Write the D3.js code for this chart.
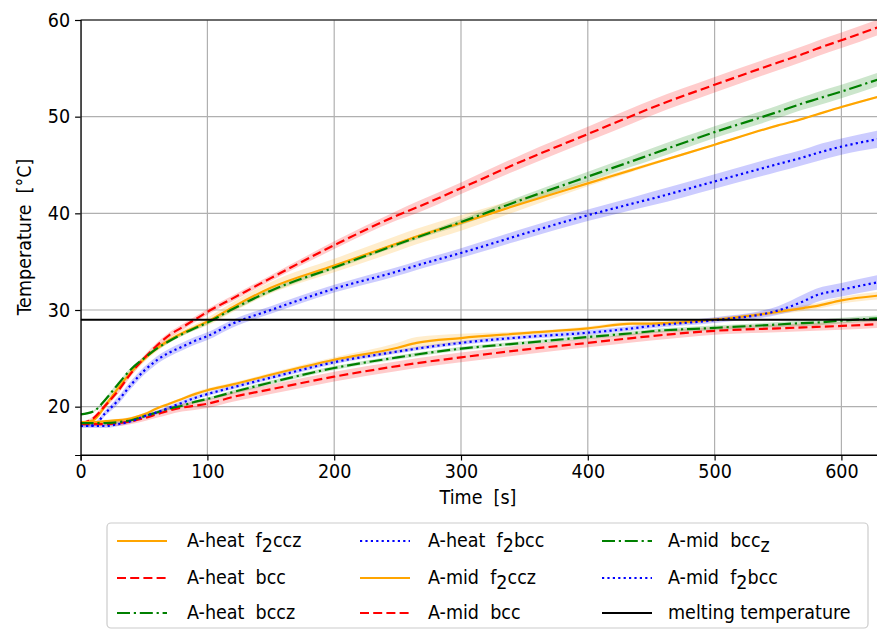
<!DOCTYPE html>
<html><head><meta charset="utf-8">
<script src="https://cdn.jsdelivr.net/npm/d3@7"></script>
<style>
body{margin:0;background:#fff}
svg text{font-family:"DejaVu Sans Condensed","DejaVu Sans",sans-serif;font-stretch:condensed;white-space:pre;fill:#000}
</style></head><body>
<svg id="chart" width="877" height="630"></svg>
<script>
// ---- data (time in s, temperature in °C) ----
const times = [0,10,20,30,40,50,60,70,80,90,100,120,150,200,250,265,300,350,400,435,450,500,550,570,580,600,630];

const heatF2ccz    = [18.3,18.6,20.2,22.0,23.6,24.9,26.0,26.9,27.6,28.2,28.8,30.3,32.3,34.6,36.9,37.6,39.0,41.1,43.1,44.5,45.1,47.1,49.1,49.8,50.2,51.0,52.1];
const heatF2cczSd  = [0.1,0.2,0.3,0.3,0.3,0.3,0.3,0.3,0.3,0.3,0.4,0.5,0.6,0.7,0.8,0.8,0.8,0.6,0.3,0.2,0.15,0.1,0.1,0.1,0.1,0.1,0.1];
const heatBcc      = [18.3,18.8,20.2,21.7,23.5,25.0,26.3,27.4,28.2,29.0,29.8,31.2,33.3,36.7,39.8,40.6,42.6,45.5,48.2,50.1,50.9,53.3,55.6,56.5,57.0,57.9,59.3];
const heatBccSd    = [0.1,0.2,0.3,0.3,0.3,0.3,0.3,0.3,0.3,0.3,0.3,0.3,0.3,0.4,0.5,0.6,0.6,0.7,0.75,0.8,0.8,0.8,0.8,0.8,0.8,0.8,0.8];
const heatBccz     = [19.2,19.5,20.8,22.4,23.9,25.0,26.0,26.8,27.5,28.1,28.7,30.1,32.0,34.4,36.8,37.5,39.1,41.5,43.8,45.4,46.1,48.4,50.5,51.4,51.8,52.6,53.9];
const heatBcczSd   = [0.1,0.1,0.2,0.2,0.2,0.2,0.2,0.2,0.2,0.2,0.2,0.2,0.2,0.2,0.2,0.2,0.3,0.4,0.5,0.55,0.6,0.6,0.65,0.65,0.7,0.7,0.7];
const heatF2bcc    = [18.0,18.1,19.4,20.7,22.3,23.7,24.8,25.6,26.2,26.8,27.3,28.6,30.0,32.2,34.0,34.6,35.9,37.9,39.8,41.0,41.5,43.3,45.1,45.8,46.2,46.9,47.7];
const heatF2bccSd  = [0.1,0.2,0.3,0.4,0.4,0.4,0.4,0.4,0.4,0.4,0.4,0.4,0.4,0.4,0.45,0.45,0.5,0.55,0.6,0.65,0.7,0.75,0.8,0.8,0.85,0.85,0.9];

const midF2ccz     = [18.4,18.4,18.5,18.6,18.8,19.2,19.8,20.3,20.8,21.3,21.7,22.3,23.3,24.85,26.1,26.6,27.1,27.6,28.1,28.6,28.6,29.0,29.8,30.2,30.4,31.0,31.5];
const midF2cczSd   = [0.15,0.15,0.15,0.15,0.15,0.15,0.15,0.15,0.15,0.2,0.2,0.2,0.2,0.25,0.5,0.6,0.45,0.2,0.2,0.2,0.2,0.2,0.25,0.3,0.3,0.35,0.4];
const midF2bcc     = [18.0,18.0,18.0,18.2,18.5,19.0,19.4,19.9,20.4,20.9,21.3,22.0,23.0,24.6,25.7,26.0,26.6,27.2,27.65,28.1,28.35,28.95,29.95,30.9,31.5,32.1,32.9];
const midF2bccSd   = [0.2,0.2,0.2,0.2,0.2,0.2,0.2,0.2,0.2,0.2,0.2,0.2,0.2,0.2,0.2,0.2,0.2,0.2,0.25,0.25,0.25,0.3,0.45,0.7,0.7,0.7,0.75];
const midBccz      = [18.3,18.3,18.3,18.4,18.6,19.0,19.4,19.8,20.1,20.5,20.8,21.5,22.5,24.0,25.1,25.4,26.0,26.6,27.2,27.6,27.8,28.15,28.5,28.65,28.7,28.9,29.15];
const midBcczSd    = [0.1,0.1,0.1,0.1,0.1,0.15,0.15,0.15,0.15,0.15,0.15,0.2,0.2,0.2,0.2,0.2,0.2,0.2,0.2,0.2,0.2,0.25,0.25,0.3,0.3,0.3,0.3];
const midBcc       = [18.2,18.2,18.2,18.3,18.5,18.8,19.2,19.6,19.9,20.1,20.3,21.0,21.8,23.1,24.2,24.5,25.1,25.9,26.6,27.1,27.3,27.85,28.1,28.2,28.25,28.35,28.55];
const midBccSd     = [0.2,0.2,0.2,0.3,0.3,0.3,0.35,0.4,0.4,0.45,0.45,0.5,0.5,0.5,0.5,0.5,0.5,0.5,0.45,0.45,0.45,0.4,0.4,0.4,0.4,0.4,0.4];

const meltingTemp = 29.0;

const xTicks = [0,100,200,300,400,500,600];
const yTicks = [20,30,40,50,60];

const seriesNames = ["A-heat f2ccz","A-heat bcc","A-heat bccz","A-heat f2bcc","A-mid f2ccz","A-mid bcc","A-mid bccz","A-mid f2bcc"];
const seriesValues = [heatF2ccz,heatBcc,heatBccz,heatF2bcc,midF2ccz,midBcc,midBccz,midF2bcc];
const seriesSd = [heatF2cczSd,heatBccSd,heatBcczSd,heatF2bccSd,midF2cczSd,midBccSd,midBcczSd,midF2bccSd];

// ---- styles ----
const styleOf = {
  solid:   {color:"#ffa500", dash:null},
  dashed:  {color:"#ff0000", dash:"9,4.2"},
  dashdot: {color:"#008000", dash:"13,3.8,2.2,3.8"},
  dotted:  {color:"#0000ff", dash:"2.2,3.2"}
};
const seriesStyle = ["solid","dashed","dashdot","dotted","solid","dashed","dashdot","dotted"];

const svg = d3.select("#chart");
const L = 80.6, T = 20, B = 455, R = 80.6 + 1.268*630;
const x = d3.scaleLinear().domain([0,630]).range([L,R]);
const y = d3.scaleLinear().domain([15,60]).range([B,T]);

svg.append("defs").append("clipPath").attr("id","clip")
  .append("rect").attr("x",L).attr("y",T).attr("width",R-L).attr("height",B-T);

// grid
const grid = svg.append("g");
grid.selectAll("line.gx").data(xTicks).enter().append("line")
  .attr("x1",d=>x(d)).attr("x2",d=>x(d)).attr("y1",T).attr("y2",B)
  .attr("stroke","#b0b0b0").attr("stroke-width",1.2);
grid.selectAll("line.gy").data(yTicks).enter().append("line")
  .attr("x1",L).attr("x2",R).attr("y1",d=>y(d)).attr("y2",d=>y(d))
  .attr("stroke","#b0b0b0").attr("stroke-width",1.2);

const plot = svg.append("g").attr("clip-path","url(#clip)");

// bands
seriesValues.forEach((vals,i)=>{
  const sd = seriesSd[i];
  const area = d3.area().curve(d3.curveMonotoneX)
    .x((d,j)=>x(times[j])).y0((d,j)=>y(vals[j]-sd[j])).y1((d,j)=>y(vals[j]+sd[j]));
  plot.append("path").datum(vals).attr("d",area)
    .attr("fill",styleOf[seriesStyle[i]].color).attr("fill-opacity",0.2).attr("stroke","none");
});

// lines
seriesValues.forEach((vals,i)=>{
  const st = styleOf[seriesStyle[i]];
  const line = d3.line().curve(d3.curveMonotoneX).x((d,j)=>x(times[j])).y(d=>y(d));
  plot.append("path").datum(vals).attr("d",line)
    .attr("fill","none").attr("stroke",st.color).attr("stroke-width",2.2)
    .attr("stroke-dasharray",st.dash);
});

// melting temperature
plot.append("line").attr("x1",L).attr("x2",R).attr("y1",y(meltingTemp)).attr("y2",y(meltingTemp))
  .attr("stroke","#000").attr("stroke-width",2);

// spines
svg.append("line").attr("x1",L).attr("x2",R).attr("y1",T).attr("y2",T).attr("stroke","#000").attr("stroke-width",1.2);
svg.append("line").attr("x1",L).attr("x2",R).attr("y1",B).attr("y2",B).attr("stroke","#000").attr("stroke-width",1.2);

// axes
const xAxis = d3.axisBottom(x).tickValues(xTicks).tickSize(5.5).tickPadding(4).tickFormat(d3.format("d"));
const yAxis = d3.axisLeft(y).tickValues(yTicks).tickSize(5.5).tickPadding(5).tickFormat(d3.format("d"));
const gx = svg.append("g").attr("transform",`translate(0,${B})`).call(xAxis);
const gy = svg.append("g").attr("transform",`translate(${L},0)`).call(yAxis);
[gx,gy].forEach(g=>{
  g.select(".domain").attr("stroke","#000").attr("stroke-width",1.2);
  g.selectAll(".tick line").attr("stroke","#000").attr("stroke-width",1.2);
  g.selectAll(".tick text").attr("font-size",19.5).style("font-family",'"DejaVu Sans Condensed","DejaVu Sans",sans-serif');
});

svg.append("text").attr("x",(L+R)/2-2).attr("y",504).attr("text-anchor","middle")
  .attr("font-size",19.5).text("Time  [s]");
svg.append("text").attr("transform","translate(31,237) rotate(-90)").attr("text-anchor","middle")
  .attr("font-size",19.5).text("Temperature  [°C]");

// legend
const legendItems = [
  {parts:[["A-heat  f",""],["2","sub"],["ccz",""]], style:"solid"},
  {parts:[["A-heat  bcc",""]], style:"dashed"},
  {parts:[["A-heat  bccz",""]], style:"dashdot"},
  {parts:[["A-heat  f",""],["2","sub"],["bcc",""]], style:"dotted"},
  {parts:[["A-mid  f",""],["2","sub"],["ccz",""]], style:"solid"},
  {parts:[["A-mid  bcc",""]], style:"dashed"},
  {parts:[["A-mid  bcc",""],["z","sub"]], style:"dashdot"},
  {parts:[["A-mid  f",""],["2","sub"],["bcc",""]], style:"dotted"},
  {parts:[["melting temperature",""]], style:"black"}
];
const lg = svg.append("g");
lg.append("rect").attr("x",107).attr("y",523).attr("width",761).attr("height",105).attr("rx",4)
  .attr("fill","#fff").attr("stroke","#cccccc").attr("stroke-width",1.2);
const colLine = [117,360,602], colText = [187,428,668], rowY = [541,578,613];
legendItems.forEach((it,k)=>{
  const c = Math.floor(k/3), r = k%3;
  const st = it.style==="black" ? {color:"#000",dash:null} : styleOf[it.style];
  lg.append("line").attr("x1",colLine[c]).attr("x2",colLine[c]+50).attr("y1",rowY[r]).attr("y2",rowY[r])
    .attr("stroke",st.color).attr("stroke-width",2.2).attr("stroke-dasharray",st.dash);
  const t = lg.append("text").attr("x",colText[c]).attr("y",rowY[r]+6).attr("font-size",19.5);
  it.parts.forEach(p=>{
    const ts = t.append("tspan").text(p[0]);
    if(p[1]==="sub"){ ts.attr("dy",5); }
    else if(t.selectAll("tspan").size()>1){ ts.attr("dy",-5); }
  });
});
</script>
</body></html>
